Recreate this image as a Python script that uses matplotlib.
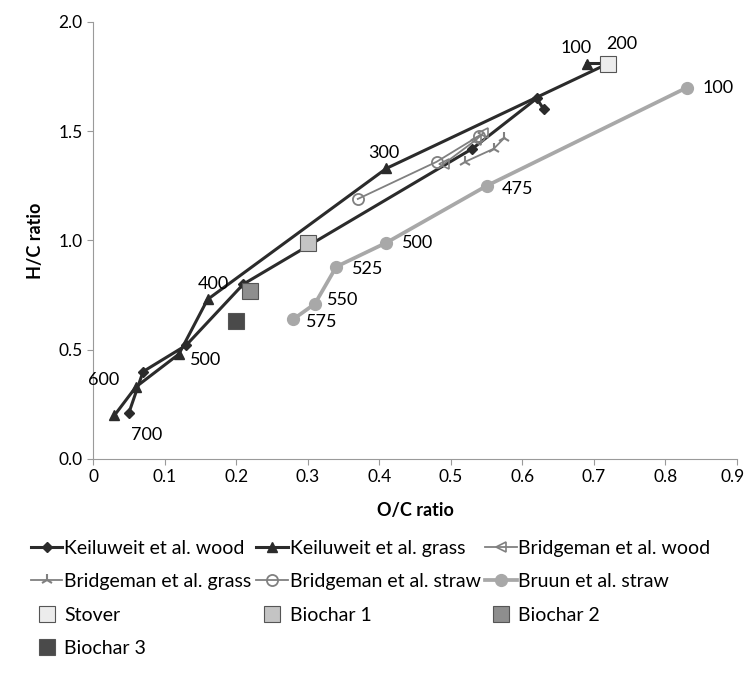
import numpy as np
import matplotlib.pyplot as plt
from matplotlib import font_manager
from matplotlib.transforms import ScaledTranslation

names = {f.name for f in font_manager.fontManager.ttflist}
fams = [n for n in ["Lato", "DejaVu Sans"] if n in names]
plt.rcParams["font.family"] = fams

# Keiluweit et al. (temperatures 100..700)
kw_x = [0.63, 0.62, 0.53, 0.21, 0.13, 0.07, 0.05]
kw_y = [1.60, 1.65, 1.42, 0.80, 0.52, 0.40, 0.21]
kg_x = [0.69, 0.72, 0.41, 0.16, 0.12, 0.06, 0.03]
kg_y = [1.81, 1.81, 1.33, 0.73, 0.48, 0.33, 0.20]
kg_lab = ["100", "200", "300", "400", "500", "600", "700"]

# Bridgeman et al.
bw_x = [0.49, 0.535, 0.545]
bw_y = [1.35, 1.46, 1.49]
bg_x = [0.52, 0.56, 0.575]
bg_y = [1.36, 1.42, 1.47]
bs_x = [0.37, 0.48, 0.54]
bs_y = [1.19, 1.36, 1.48]

# Bruun et al. straw
br_x = [0.83, 0.55, 0.41, 0.34, 0.31, 0.28]
br_y = [1.70, 1.25, 0.99, 0.88, 0.71, 0.64]
br_lab = ["100", "475", "500", "525", "550", "575"]

# single samples
sq_names = ["Stover", "Biochar 1", "Biochar 2", "Biochar 3"]
sq_x = [0.72, 0.30, 0.22, 0.20]
sq_y = [1.81, 0.99, 0.77, 0.63]
sq_col = ["#ececec", "#c4c4c4", "#8e8e8e", "#4a4a4a"]

dark = "#2b2b2b"
mid = "#808080"
light = "#a8a8a8"
fs = 13

fig = plt.figure(figsize=(7.46, 6.83), dpi=100)
ax = fig.add_axes([0.1247, 0.328, 0.8633, 0.6398])

h = {}
h["kw"], = ax.plot(kw_x, kw_y, color=dark, lw=2.2, marker="D", ms=5.5, zorder=3)
h["kg"], = ax.plot(kg_x, kg_y, color=dark, lw=2.2, marker="^", ms=7.5, zorder=3)
h["bw"], = ax.plot(bw_x, bw_y, color=mid, lw=1.3, marker="<", ms=7,
                   mfc="none", mew=1.2, zorder=3)
h["bg"], = ax.plot(bg_x, bg_y, color=mid, lw=1.3, marker="2", ms=9,
                   mew=1.5, zorder=3)
h["bs"], = ax.plot(bs_x, bs_y, color=mid, lw=1.3, marker="o", ms=8,
                   mfc="none", mew=1.3, zorder=3)
h["br"], = ax.plot(br_x, br_y, color=light, lw=2.7, marker="o", ms=8.5, zorder=3)

sq = []
for name, x, y, c in zip(sq_names, sq_x, sq_y, sq_col):
    s, = ax.plot([x], [y], ls="none", marker="s", ms=11, mfc=c, mec="#555555",
                 mew=0.8, zorder=4)
    sq.append(s)

# data labels
kg_off = [(-8, 11), (10, 14), (-2, 11), (4, 11), (8, -4), (-12, 5), (12, -14)]
kg_ha = ["center", "center", "center", "center", "left", "right", "left"]
for x, y, t, o, ha in zip(kg_x, kg_y, kg_lab, kg_off, kg_ha):
    ax.annotate(t, (x, y), xytext=o, textcoords="offset points", ha=ha,
                va="center", fontsize=fs)
br_off = [(11, 0), (11, -2), (11, 0), (11, -2), (9, 3), (9, -2)]
for x, y, t, o in zip(br_x, br_y, br_lab, br_off):
    ax.annotate(t, (x, y), xytext=o, textcoords="offset points", ha="left",
                va="center", fontsize=fs)

ax.set_xlim(0, 0.9)
ax.set_ylim(0, 2.0)
ax.set_xticks(np.arange(0, 0.91, 0.1))
ax.set_xticklabels(["0"] + ["%.1f" % v for v in np.arange(0.1, 0.91, 0.1)])
ax.set_yticks(np.arange(0, 2.01, 0.5))
ax.set_yticklabels(["%.1f" % v for v in np.arange(0, 2.01, 0.5)])
for s in ["top", "right"]:
    ax.spines[s].set_visible(False)
for s in ["left", "bottom"]:
    ax.spines[s].set_color("#9a9a9a")
ax.tick_params(colors="#9a9a9a", labelcolor="black", labelsize=12.5,
               direction="out", length=4)
last = ax.get_xticklabels()[-1]
last.set_transform(last.get_transform() +
                   ScaledTranslation(-4 / 100, 0, fig.dpi_scale_trans))
ax.set_xlabel("O/C ratio", fontweight="bold", fontsize=fs, labelpad=12)
ax.set_ylabel("H/C ratio", fontweight="bold", fontsize=fs, labelpad=10)

handles = [h["kw"], h["bg"], sq[0], sq[3],
           h["kg"], h["bs"], sq[1],
           h["bw"], h["br"], sq[2]]
labels = ["Keiluweit et al. wood", "Bridgeman et al. grass", "Stover", "Biochar 3",
          "Keiluweit et al. grass", "Bridgeman et al. straw", "Biochar 1",
          "Bridgeman et al. wood", "Bruun et al. straw", "Biochar 2"]
fig.legend(handles, labels, ncol=3, loc="upper left", fontsize=14,
           bbox_to_anchor=(0.042, 0.21), frameon=False,
           handlelength=1.6, handletextpad=0.1, columnspacing=0.25,
           labelspacing=0.85, borderaxespad=0, borderpad=0)

fig.savefig("out.png", dpi=100)
